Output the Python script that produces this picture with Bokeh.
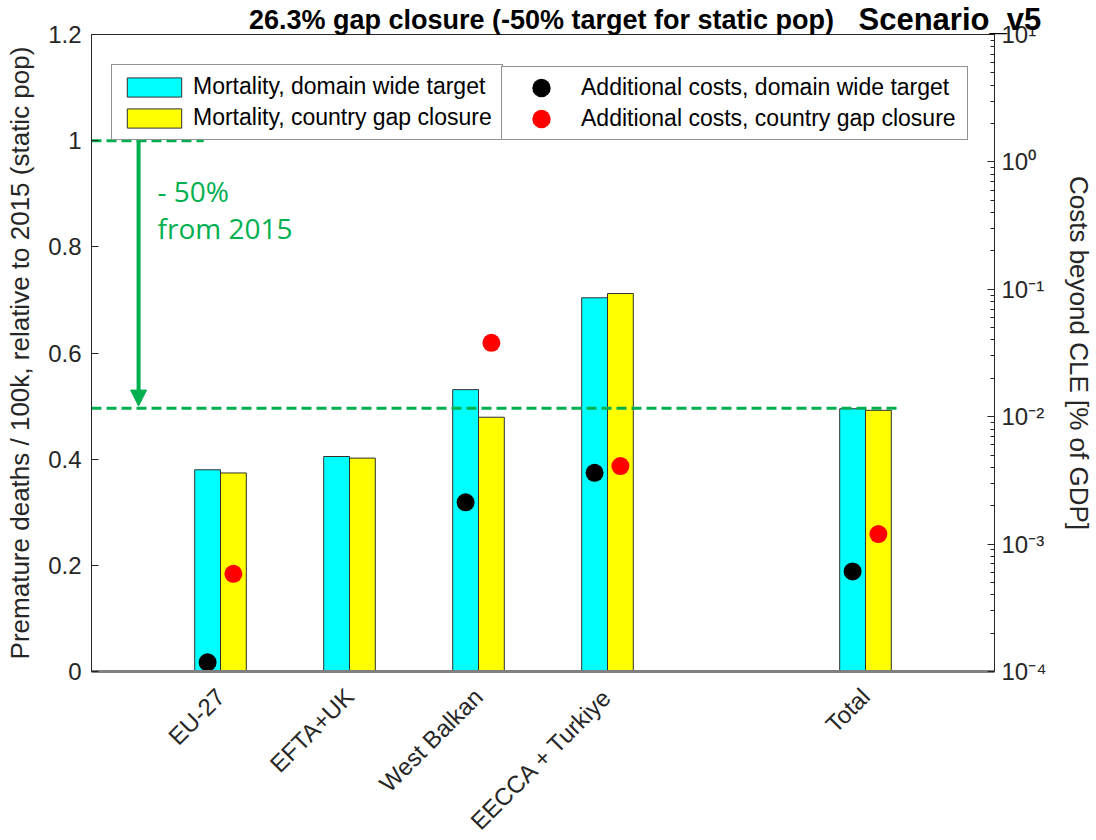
import math
from bokeh.plotting import figure
from bokeh.models import (Range1d, LogScale, LogAxis, FixedTicker,
                          CustomJSTickFormatter, Legend, LegendItem, Label, Arrow,
                          NormalHead, ColumnDataSource)
from bokeh.embed import file_html
from bokeh.resources import INLINE

nan = float("nan")

# ---------------- data ----------------
regions = ["EU-27", "EFTA+UK", "West Balkan", "EECCA + Turkiye", "Total"]
slots = [1, 2, 3, 4, 6]          # category slot on the x axis (gap before Total)
mort_domain = [0.380, 0.405, 0.531, 0.704, 0.495]
mort_country = [0.374, 0.402, 0.479, 0.712, 0.492]
cost_domain = [1.18e-4, nan, 2.13e-3, 3.63e-3, 6.1e-4]
cost_country = [5.85e-4, nan, 3.8e-2, 4.1e-3, 1.2e-3]

left_ticks = [0, 0.2, 0.4, 0.6, 0.8, 1.0, 1.2]
right_ticks = [1e-4, 1e-3, 1e-2, 1e-1, 1e0, 1e1]
right_minor = [m * d for d in [1e-4, 1e-3, 1e-2, 1e-1, 1e0] for m in range(2, 10)]

x_lim = (0, 7)
left_lim = (0, 1.2)
right_lim = (1e-4, 10)
baseline_level = 1.0
target_level = 0.496

title_text = "26.3% gap closure (-50% target for static pop)"
scenario_text = "Scenario_v5"

BAR_W = 0.2
src = ColumnDataSource(dict(
    region=regions,
    x_a=[s - BAR_W / 2 for s in slots], x_b=[s + BAR_W / 2 for s in slots],
    md=mort_domain, mc=mort_country, cd=cost_domain, cc=cost_country))

FONT = "Liberation Sans"
DARK = "#262626"
GREEN = "#00B050"

# layout (pixels): the frame fills the whole canvas, the axes box sits inside it
W, H = 1094, 838
BOX_L, BOX_W = 91, 903    # axes box left / width
BOX_T, BOX_H = 34, 637    # axes box top / height
BELOW = H - BOX_T - BOX_H

lx = (x_lim[1] - x_lim[0]) / BOX_W
x_lo = x_lim[0] - BOX_L * lx
x_hi = x_lim[1] + (W - BOX_L - BOX_W) * lx
ly = (left_lim[1] - left_lim[0]) / BOX_H
y_lo = left_lim[0] - BELOW * ly
y_hi = left_lim[1] + BOX_T * ly
lr0, lr1 = math.log10(right_lim[0]), math.log10(right_lim[1])
dr = (lr1 - lr0) / BOX_H
r_lo = 10 ** (lr0 - BELOW * dr)
r_hi = 10 ** (lr1 + BOX_T * dr)

p = figure(width=W, height=H,
           x_range=Range1d(x_lo, x_hi),
           y_range=Range1d(y_lo, y_hi),
           output_backend="svg", toolbar_location=None,
           min_border_left=0, min_border_right=0,
           min_border_top=0, min_border_bottom=0)
p.extra_y_ranges = {"cost": Range1d(r_lo, r_hi)}
p.extra_y_scales = {"cost": LogScale()}

p.xgrid.visible = False
p.ygrid.visible = False
p.outline_line_color = None
p.background_fill_color = "white"
p.border_fill_color = "white"

# top border of the axes box
p.segment(x0=[x_lim[0]], y0=[left_lim[1]], x1=[x_lim[1]], y1=[left_lim[1]],
          line_color=DARK, line_width=1.2)

# bars
r_cyan = p.vbar(x="x_a", top="md", width=BAR_W, bottom=0, source=src,
                fill_color="#00FFFF", line_color="#303030", line_width=1)
r_yel = p.vbar(x="x_b", top="mc", width=BAR_W, bottom=0, source=src,
               fill_color="#FFFF00", line_color="#303030", line_width=1)

# green annotation: target lines + arrow
p.segment(x0=[0], y0=[baseline_level], x1=[0.87], y1=[baseline_level],
          line_color=GREEN, line_width=3, line_dash="10 5")
p.segment(x0=[0], y0=[target_level], x1=[6.27], y1=[target_level],
          line_color=GREEN, line_width=3, line_dash="10 5")
p.add_layout(Arrow(end=NormalHead(size=16, fill_color=GREEN, line_color=GREEN),
                   x_start=0.365, y_start=baseline_level,
                   x_end=0.365, y_end=target_level + 0.004,
                   line_color=GREEN, line_width=4))
p.add_layout(Label(x=0.512, y=0.906, text="- 50%", text_color=GREEN,
                   text_font="Open Sans", text_font_size="28px",
                   text_baseline="alphabetic"))
p.add_layout(Label(x=0.512, y=0.835, text="from 2015", text_color=GREEN,
                   text_font="Open Sans", text_font_size="28px",
                   text_baseline="alphabetic"))

# dots (drawn as screen-sized ellipses)
r_blk = p.ellipse(x="x_a", y="cd", source=src, width=18, height=18,
                  width_units="screen", height_units="screen",
                  fill_color="black", line_color=None, y_range_name="cost")
r_red = p.ellipse(x="x_b", y="cc", source=src, width=18, height=18,
                  width_units="screen", height_units="screen",
                  fill_color="#FF0000", line_color=None, y_range_name="cost")

# axes (all pinned to the axes box)
xa = p.xaxis[0]
xa.fixed_location = left_lim[0]
xa.bounds = x_lim
xa.ticker = FixedTicker(ticks=slots)
xa.major_label_overrides = {s: r for s, r in zip(slots, regions)}
xa.major_label_orientation = math.pi / 4
xa.major_label_text_font = FONT
xa.major_label_text_font_size = "24px"
xa.major_label_text_color = DARK
xa.major_tick_line_color = None
xa.minor_tick_line_color = None
xa.axis_line_color = "#808080"
xa.axis_line_width = 3
xa.major_label_standoff = 15

ya = p.yaxis[0]
ya.fixed_location = x_lim[0]
ya.bounds = left_lim
ya.ticker = FixedTicker(ticks=left_ticks)
ya.major_label_overrides = {0: "0", 1.0: "1", 1.2: "1.2"}
ya.axis_label = "Premature deaths / 100k, relative to 2015 (static pop)"
ya.axis_label_text_font = FONT
ya.axis_label_text_font_style = "normal"
ya.axis_label_text_font_size = "26px"
ya.axis_label_text_color = DARK
ya.axis_label_standoff = 10
ya.major_label_text_font = FONT
ya.major_label_text_font_size = "24px"
ya.major_label_text_color = DARK
ya.major_tick_in = 7
ya.major_tick_out = 0
ya.minor_tick_line_color = None
ya.major_label_standoff = 10
ya.axis_line_color = DARK
ya.major_tick_line_color = DARK

ra = LogAxis(y_range_name="cost", bounds=right_lim, fixed_location=x_lim[1],
             ticker=FixedTicker(ticks=right_ticks, minor_ticks=right_minor),
             formatter=CustomJSTickFormatter(code="""
const e = Math.round(Math.log10(tick));
const sup = {'-':'\u207b','0':'\u2070','1':'\u00b9','2':'\u00b2','3':'\u00b3','4':'\u2074','5':'\u2075'};
return '10' + String(e).split('').map(c => sup[c]).join('');
"""))
ra.axis_label = "Costs beyond CLE [% of GDP]"
ra.axis_label_text_font = FONT
ra.axis_label_text_font_style = "normal"
ra.axis_label_text_font_size = "26px"
ra.axis_label_text_color = DARK
ra.axis_label_standoff = 14
ra.major_label_text_font = FONT
ra.major_label_text_font_size = "24px"
ra.major_label_text_color = DARK
ra.major_tick_in = 7
ra.major_tick_out = 0
ra.minor_tick_in = 4
ra.minor_tick_out = 0
ra.major_label_standoff = 7
ra.axis_line_color = DARK
ra.major_tick_line_color = DARK
ra.minor_tick_line_color = DARK
p.add_layout(ra, "right")

# legends
leg_y = BELOW + BOX_H - 106
leg_common = dict(border_line_color=DARK, border_line_width=1,
                  background_fill_color="white", background_fill_alpha=1,
                  label_text_font=FONT, label_text_font_size="23px",
                  label_text_color="black", margin=0, spacing=4)
leg1 = Legend(items=[LegendItem(label="Mortality, domain wide target", renderers=[r_cyan]),
                     LegendItem(label="Mortality, country gap closure", renderers=[r_yel])],
              location=(BOX_L + 20, leg_y), glyph_width=68, glyph_height=24,
              label_height=24, padding=8, label_standoff=5,
              label_width=301, **leg_common)
leg2 = Legend(items=[LegendItem(label="Additional costs, domain wide target", renderers=[r_blk]),
                     LegendItem(label="Additional costs, country gap closure", renderers=[r_red])],
              location=(BOX_L + 410, leg_y), glyph_width=64, glyph_height=23,
              label_height=24, padding=7, label_standoff=8,
              label_width=379, **leg_common)
p.add_layout(leg1, "center")
p.add_layout(leg2, "center")

# titles (baseline just above the axes box)
title_y = left_lim[1] + 15 * ly
p.add_layout(Label(x=BOX_L + 450, y=title_y, x_units="screen", y_units="data",
                   text=title_text, text_align="center", text_baseline="alphabetic",
                   text_font=FONT, text_font_style="bold", text_font_size="27px",
                   text_color="black"))
p.add_layout(Label(x=BOX_L + 767, y=title_y, x_units="screen", y_units="data",
                   text=scenario_text, text_align="left", text_baseline="alphabetic",
                   text_font=FONT, text_font_style="bold", text_font_size="31px",
                   text_color="black"))

open("out.html", "w").write(file_html(p, INLINE))
